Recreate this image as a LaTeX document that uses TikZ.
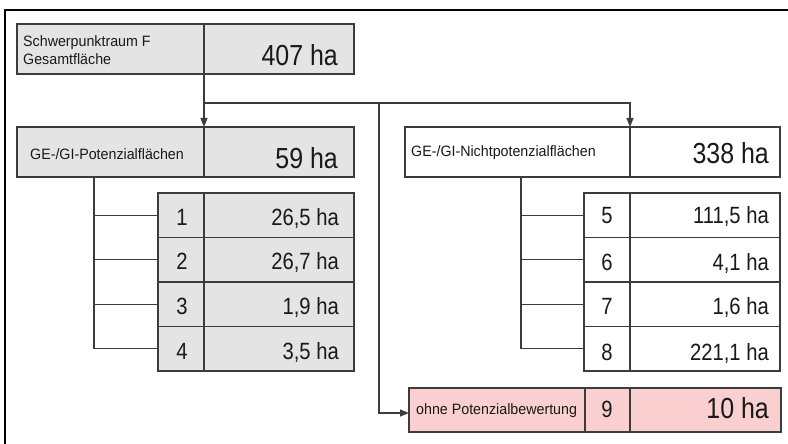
\documentclass[tikz,border=0pt]{standalone}
\usepackage{fontspec}
\setmainfont{Liberation Sans}
\newfontfamily\narrowf{Liberation Sans}[FakeStretch=0.86]
\newfontfamily\smallf{Liberation Sans}[FakeStretch=0.95]
\usetikzlibrary{arrows.meta}
\definecolor{linec}{HTML}{3C3C3C}
\definecolor{grayf}{HTML}{E4E4E4}
\definecolor{pinkf}{HTML}{F9CFCF}
\tikzset{
  cell/.style={draw=linec, line width=1.1pt, inner sep=0pt, outer sep=0pt, anchor=north west},
  graycell/.style={cell, fill=grayf},
  whitecell/.style={cell, fill=white},
  pinkcell/.style={cell, fill=pinkf},
  smalltxt/.style={font=\smallf\fontsize{15}{18}\selectfont, inner sep=0pt, anchor=base west, text=black!90},
  bigtxt/.style={font=\narrowf\fontsize{29}{32}\selectfont, inner sep=0pt, anchor=base east, text=black!90},
  rowtxt/.style={font=\narrowf\fontsize{23.5}{26}\selectfont, inner sep=0pt, anchor=base east, text=black!90},
  numtxt/.style={font=\narrowf\fontsize{23.5}{26}\selectfont, inner sep=0pt, anchor=base, text=black!90},
  conn/.style={draw=linec, line width=1.1pt},
  arr/.style={conn, -{Triangle[length=9pt,width=7pt]}}
}
\begin{document}
\begin{tikzpicture}[x=1pt,y=-1pt]
\useasboundingbox (0,0) rectangle (788,444);
% frame
\draw[line width=2pt, black] (5,450) -- (5,10) -- (795,10);

% top box
\node[graycell, minimum width=187, minimum height=50] (topL) at (17,24) {};
\node[graycell, minimum width=150, minimum height=50] (topR) at (204,24) {};
\node[smalltxt] (t1) at (23,47) {Schwerpunktraum F};
\node[smalltxt] (t2) at (23,65) {Gesamtfläche};
\node[bigtxt] (t3) at (338,66) {407 ha};

% left group
\node[graycell, minimum width=187, minimum height=50] (potL) at (17,127) {};
\node[graycell, minimum width=150, minimum height=50] (potR) at (204,127) {};
\node[smalltxt] (p1) at (30,159) {GE-/GI-Potenzialflächen};
\node[bigtxt] (p2) at (338,168) {59 ha};

\node[graycell, minimum width=46, minimum height=44.5] (n1) at (158,193) {};
\node[graycell, minimum width=150, minimum height=44.5] (v1) at (204,193) {};
\node[graycell, minimum width=46, minimum height=44.5] (n2) at (158,237.5) {};
\node[graycell, minimum width=150, minimum height=44.5] (v2) at (204,237.5) {};
\node[graycell, minimum width=46, minimum height=44.5] (n3) at (158,282) {};
\node[graycell, minimum width=150, minimum height=44.5] (v3) at (204,282) {};
\node[graycell, minimum width=46, minimum height=44.5] (n4) at (158,326.5) {};
\node[graycell, minimum width=150, minimum height=44.5] (v4) at (204,326.5) {};
\node[numtxt] (a1) at (182,225) {1};
\node[numtxt] (a2) at (182,269) {2};
\node[numtxt] (a3) at (182,314) {3};
\node[numtxt] (a4) at (182,359) {4};
\node[rowtxt] (b1) at (339,225) {26,5 ha};
\node[rowtxt] (b2) at (339,269) {26,7 ha};
\node[rowtxt] (b3) at (339,314) {1,9 ha};
\node[rowtxt] (b4) at (339,359) {3,5 ha};

% right group
\node[whitecell, minimum width=225, minimum height=50] (npL) at (405,127) {};
\node[whitecell, minimum width=150, minimum height=50] (npR) at (630,127) {};
\node[smalltxt] (q1) at (411,157) {GE-/GI-Nichtpotenzialflächen};
\node[bigtxt] (q2) at (769,164) {338 ha};

\node[whitecell, minimum width=46, minimum height=44.5] (m5) at (584,193) {};
\node[whitecell, minimum width=150, minimum height=44.5] (w5) at (630,193) {};
\node[whitecell, minimum width=46, minimum height=44.5] (m6) at (584,237.5) {};
\node[whitecell, minimum width=150, minimum height=44.5] (w6) at (630,237.5) {};
\node[whitecell, minimum width=46, minimum height=44.5] (m7) at (584,282) {};
\node[whitecell, minimum width=150, minimum height=44.5] (w7) at (630,282) {};
\node[whitecell, minimum width=46, minimum height=44.5] (m8) at (584,326.5) {};
\node[whitecell, minimum width=150, minimum height=44.5] (w8) at (630,326.5) {};
\node[numtxt] (c5) at (607,223) {5};
\node[numtxt] (c6) at (607,270) {6};
\node[numtxt] (c7) at (607,314) {7};
\node[numtxt] (c8) at (607,360) {8};
\node[rowtxt] (d5) at (769,223) {111,5 ha};
\node[rowtxt] (d6) at (769,270) {4,1 ha};
\node[rowtxt] (d7) at (769,314) {1,6 ha};
\node[rowtxt] (d8) at (769,360) {221,1 ha};

% pink row
\node[pinkcell, minimum width=176, minimum height=44] (pkA) at (409,388) {};
\node[pinkcell, minimum width=45, minimum height=44] (pkB) at (585,388) {};
\node[pinkcell, minimum width=151, minimum height=44] (pkC) at (630,388) {};
\node[smalltxt] (k1) at (416,414) {ohne Potenzialbewertung};
\node[numtxt] (k2) at (607,417) {9};
\node[bigtxt] (k3) at (769,418) {10 ha};

% connectors
\coordinate (j1) at (204,103);
\coordinate (j2) at (379,103);
\coordinate (j3) at (379,413);
\draw[arr] (topL.south east) -- (potL.north east);
\draw[arr] (j1) -| (npL.north east);
\draw[arr] (j2) -- (j3) -- (j3 -| pkA.west);

% left tree
\coordinate (lt) at (94,177);
\draw[conn] (lt) |- (n4.west);
\draw[conn] (n1.west -| lt) -- (n1.west);
\draw[conn] (n2.west -| lt) -- (n2.west);
\draw[conn] (n3.west -| lt) -- (n3.west);

% right tree
\coordinate (rt) at (521,177);
\draw[conn] (rt) |- (m8.west);
\draw[conn] (m5.west -| rt) -- (m5.west);
\draw[conn] (m6.west -| rt) -- (m6.west);
\draw[conn] (m7.west -| rt) -- (m7.west);
\end{tikzpicture}
\end{document}
